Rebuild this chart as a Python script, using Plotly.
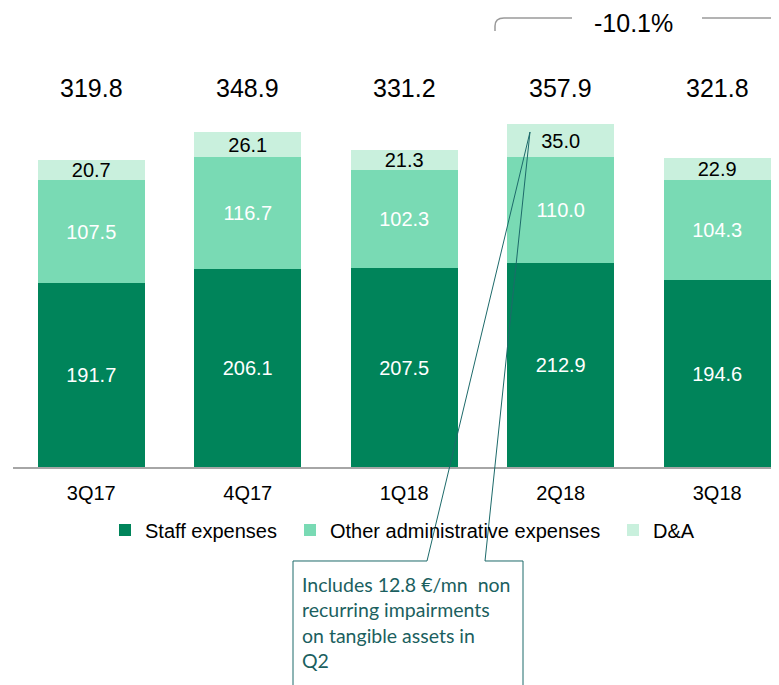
import plotly.graph_objects as go

categories = ["3Q17", "4Q17", "1Q18", "2Q18", "3Q18"]
staff = [191.7, 206.1, 207.5, 212.9, 194.6]
other_admin = [107.5, 116.7, 102.3, 110.0, 104.3]
dna = [20.7, 26.1, 21.3, 35.0, 22.9]
totals = [319.8, 348.9, 331.2, 357.9, 321.8]
change_label = "-10.1%"
callout_text = "Includes 12.8 €/mn  non<br>recurring impairments<br>on tangible assets in<br>Q2"

C_STAFF = "#00845A"
C_OTHER = "#79DAB4"
C_DNA = "#C9F0DD"
LINE_TEAL = "#1D6A6A"

# page body has an 8px margin; figure coordinates are offset by it
OFF = 8
W, H = 779, 685
ML, MT, MR = 13 - OFF, 0, OFF
MB = H - (467 - OFF)
PW, PH = W - ML - MR, H - MT - MB


def px(x):
    """screen x -> paper x"""
    return (x - OFF - ML) / PW


def py(y):
    """screen y -> paper y"""
    return (H - MB - (y - OFF)) / PH


FONT = "Liberation Sans, Arial, sans-serif"

fig = go.Figure()
series = [
    ("Staff expenses", staff, C_STAFF, "white", "legend"),
    ("Other administrative expenses", other_admin, C_OTHER, "white", "legend2"),
    ("D&A", dna, C_DNA, "black", "legend3"),
]
for name, vals, col, tcol, lg in series:
    fig.add_trace(go.Bar(
        x=categories, y=vals, name=name, marker=dict(color=col, line=dict(width=0)),
        text=[f"{v:.1f}" for v in vals], textposition="inside",
        insidetextanchor="middle", constraintext="none",
        textfont=dict(color=tcol, size=20, family=FONT),
        legend=lg, hoverinfo="skip",
    ))

annotations = []
for c, t in zip(categories, totals):
    annotations.append(dict(x=c, y=395.5, xref="x", yref="y", text=f"{t:.1f}",
                            showarrow=False, font=dict(size=25, color="black", family=FONT),
                            xanchor="center", yanchor="middle"))
annotations.append(dict(x=px(633.5), y=py(8), xref="paper", yref="paper", text=change_label,
                        showarrow=False, font=dict(size=25, color="black", family=FONT),
                        xanchor="center", yanchor="top", borderpad=0))
annotations.append(dict(x=px(300), y=py(571), xref="paper", yref="paper", text=callout_text,
                        showarrow=False, align="left",
                        font=dict(size=19.5, color="#1B5F60", family="Lato, Open Sans, sans-serif"),
                        xanchor="left", yanchor="top"))

def path(points):
    s = ""
    for i, (x, y) in enumerate(points):
        s += ("M" if i == 0 else "L") + f"{px(x):.5f},{py(y):.5f} "
    return s

shapes = []
# bracket
br_left = f"M{px(495):.5f},{py(31):.5f} L{px(495):.5f},{py(26):.5f} Q{px(495):.5f},{py(18):.5f} {px(504):.5f},{py(18):.5f} L{px(572):.5f},{py(18):.5f}"
br_right = f"M{px(702):.5f},{py(18):.5f} L{px(769):.5f},{py(18):.5f} Q{px(778):.5f},{py(18):.5f} {px(778):.5f},{py(26):.5f} L{px(778):.5f},{py(31):.5f}"
for p in (br_left, br_right):
    shapes.append(dict(type="path", path=p, xref="paper", yref="paper",
                       line=dict(color="#9A9A9A", width=1.5)))
# callout
for pts in ([(530, 132), (427, 561), (293, 561), (293, 700)],
            [(530, 132), (485, 561), (523, 561), (523, 700)]):
    shapes.append(dict(type="path", path=path(pts), xref="paper", yref="paper",
                       line=dict(color=LINE_TEAL, width=1)))

leg_common = dict(orientation="h", yanchor="middle", y=py(530), xanchor="left",
                  bgcolor="rgba(0,0,0,0)", borderwidth=0,
                  font=dict(size=20, color="black", family=FONT), itemclick=False)

fig.update_layout(
    width=W, height=H, margin=dict(l=ML, r=MR, t=MT, b=MB, pad=0, autoexpand=False),
    paper_bgcolor="white", plot_bgcolor="white",
    barmode="stack", bargap=0.316,
    showlegend=True,
    legend=dict(x=px(105), **leg_common),
    legend2=dict(x=px(290), **leg_common),
    legend3=dict(x=px(613), **leg_common),
    xaxis=dict(range=[-0.5, 4.395], showline=True, linecolor="#A6A6A6", linewidth=2,
               ticks="", showgrid=False, zeroline=False, ticklabelstandoff=7,
               tickfont=dict(size=20, color="black", family=FONT)),
    yaxis=dict(range=[0, 478.7], visible=False, showgrid=False, zeroline=False),
    annotations=annotations, shapes=shapes,
)

fig.write_html("out.html")
